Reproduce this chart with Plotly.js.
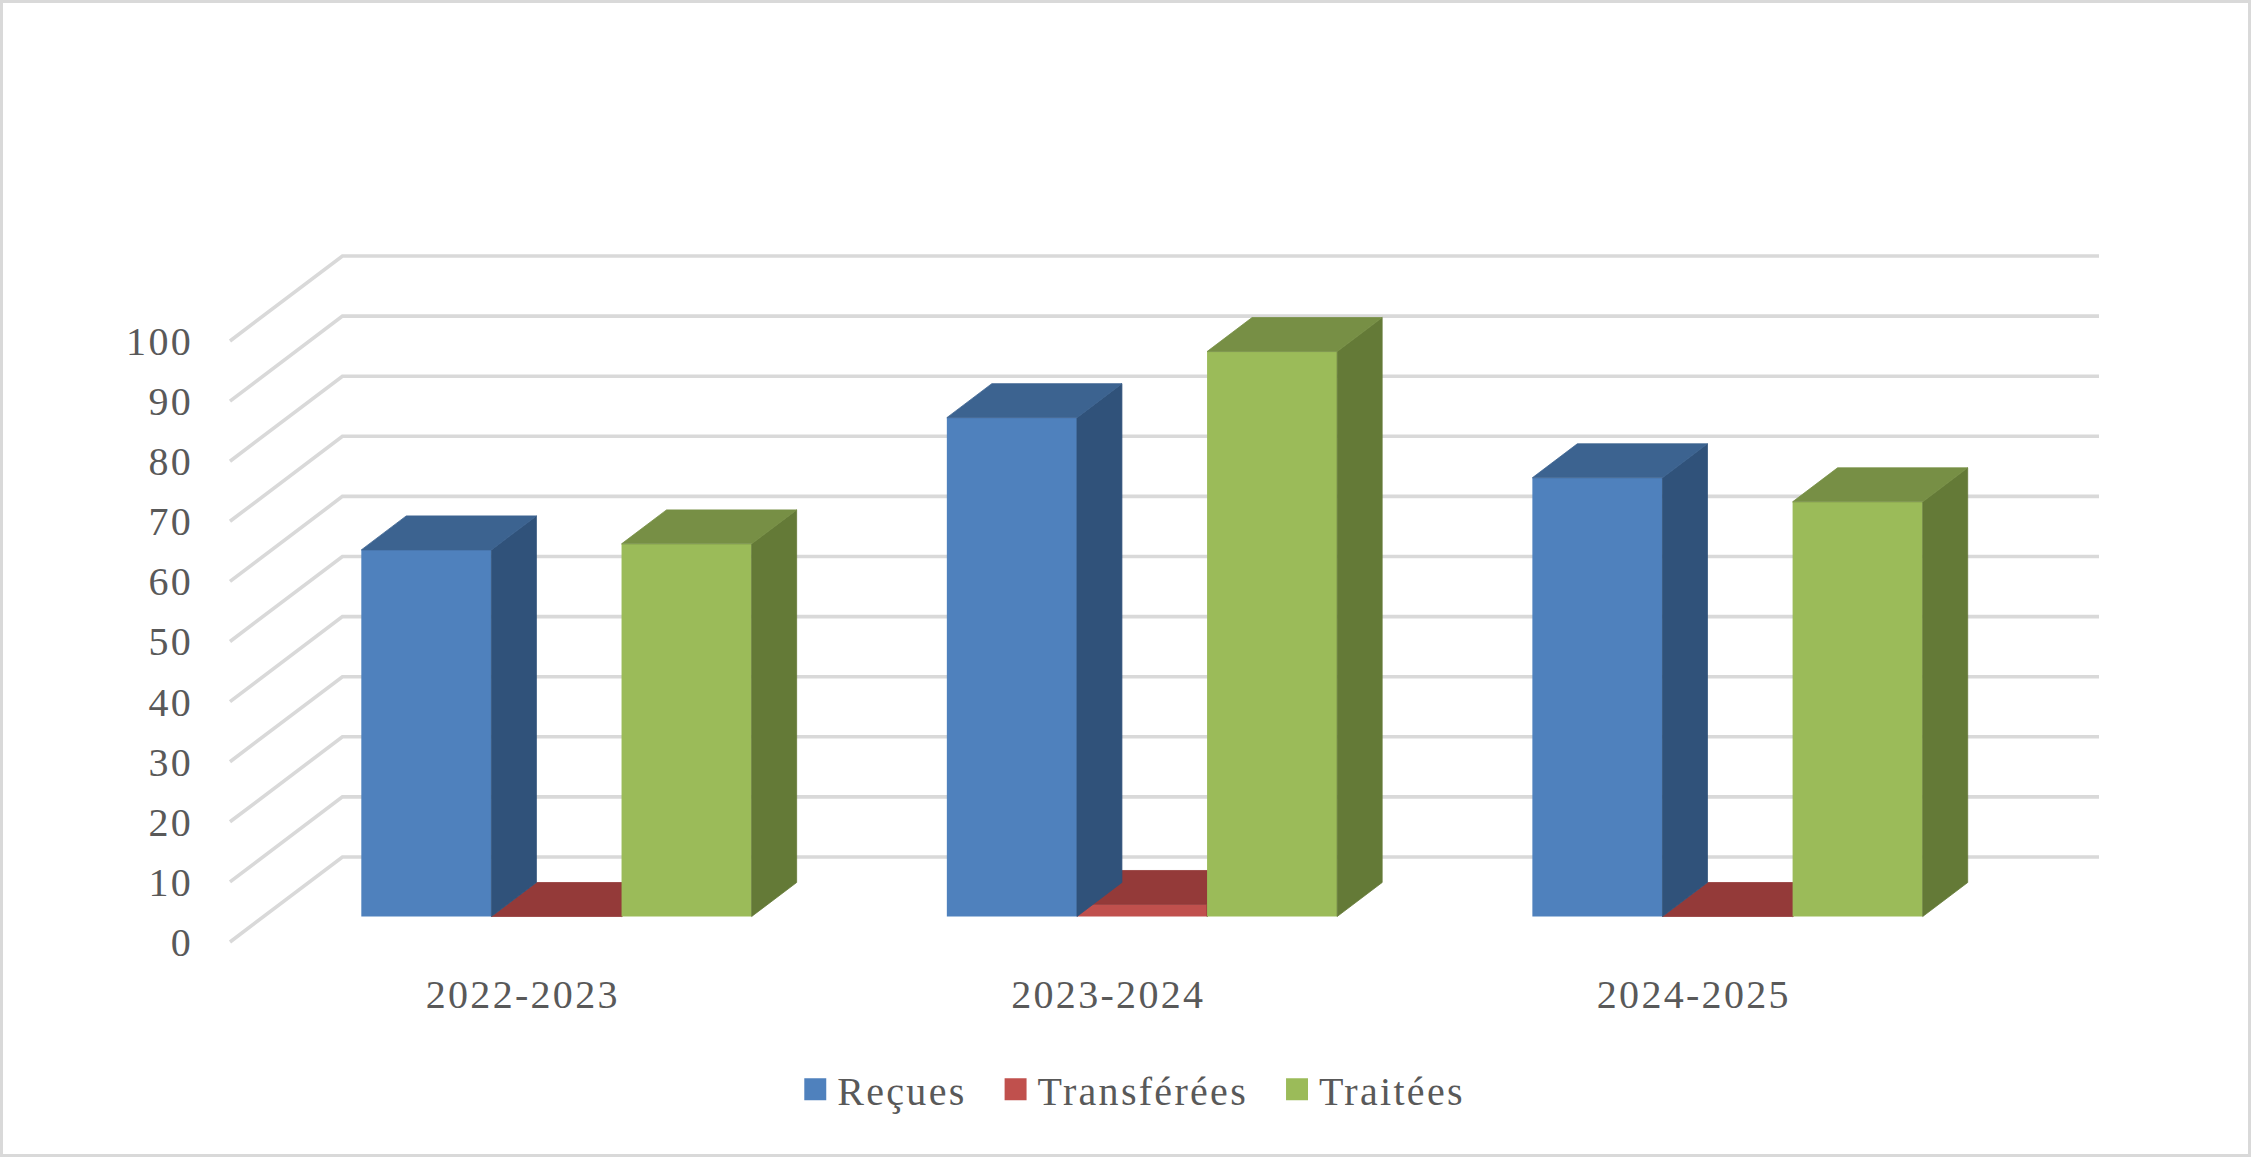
<!DOCTYPE html>
<html>
<head>
<meta charset="utf-8">
<script src="https://cdn.plot.ly/plotly-3.0.1.min.js"></script>
<style>
html,body{margin:0;padding:0;background:#fff;}
#chart{position:absolute;left:0;top:0;width:2251px;height:1157px;}
#frame{position:absolute;left:0;top:0;width:2251px;height:1157px;box-sizing:border-box;border:3px solid #d9d9d9;pointer-events:none;}
.legendpoints path{transform:translate(44px,0) scale(1.83) !important;}
.xtick text,.ytick text,.legendtext{letter-spacing:2.3px;}
</style>
</head>
<body>
<div id="chart"></div>
<div id="frame"></div>
<script>
const periods = ['2022-2023','2023-2024','2024-2025'];
const recues = [61,83,73];
const transferees = [0,2,0];
const traitees = [62,94,69];
const yTicks = [0,10,20,30,40,50,60,70,80,90,100];

const depthX = 0.192, depthY = 14.14;      // oblique projection of the floor depth, in axis units
const padX = 5/585.7, padY = 5/6.01;       // breathing room so grid line ends are not clipped
const barW = 1/4.5, barStart = 0.3, barDepth = 0.4;

const font = 'Liberation Serif';
const fontSize = 40;
const textColor = '#595959';

const cats = periods.map((_,i)=>i);
const base = barStart*depthY;
function barX(i,k){ return i + (k-1)*barW + barStart*depthX; }

function poly(vals,k,kind){
  const xs=[], ys=[];
  vals.forEach((v,i)=>{
    const xc=barX(i,k), xl=xc-barW/2, xr=xc+barW/2, yb=base, yt=base+v;
    const dx=barDepth*depthX, dy=barDepth*depthY;
    if(kind==='side'){
      xs.push(xr,xr+dx,xr+dx,xr,xr,null); ys.push(yb,yb+dy,yt+dy,yt,yb,null);
    } else {
      xs.push(xl,xl+dx,xr+dx,xr,xl,null); ys.push(yt,yt+dy,yt+dy,yt,yt,null);
    }
  });
  return {xs,ys};
}
function face(vals,k,kind,color,ax){
  const p=poly(vals,k,kind);
  return {type:'scatter',mode:'lines',x:p.xs,y:p.ys,fill:'toself',fillcolor:color,
    line:{width:0.8,color:color},showlegend:false,hoverinfo:'skip',cliponaxis:false,xaxis:'x'+ax,yaxis:'y'+ax};
}
function bar(name,vals,k,color,ax){
  return {type:'bar',name:name,x:cats.map(i=>barX(i,k)),y:vals,base:vals.map(()=>base),width:barW,
    marker:{color:color,line:{width:0}},cliponaxis:false,xaxis:'x'+ax,yaxis:'y'+ax};
}

const gx=[], gy=[];
yTicks.forEach(v=>{
  gx.push(-0.5,-0.5+depthX,2.5+depthX,null);
  gy.push(v,v+depthY,v+depthY,null);
});
const grid={type:'scatter',mode:'lines',x:gx,y:gy,line:{color:'#d9d9d9',width:3.6},showlegend:false,hoverinfo:'skip',cliponaxis:false};

const data=[
  grid,
  bar('Reçues',recues,0,'#4f81bd',3),
  bar('Transférées',transferees,1,'#c0504d',2),
  bar('Traitées',traitees,2,'#9bbb59',3),
  face(transferees,1,'side','#7a2f2d',2),
  face(transferees,1,'top','#943a39',2),
  face(recues,0,'side','#30527a',3),
  face(recues,0,'top','#3c6390',3),
  face(traitees,2,'side','#647a37',3),
  face(traitees,2,'top','#778f45',3)
];

const xr=[-0.5-padX,2.5+depthX], yr=[-padY,100+depthY+padY];
const hidden=(axis)=>({range:axis,visible:false,fixedrange:true});
const layout={
  width:2251,height:1157,
  margin:{l:224.5,r:152,t:250.7,b:210.3,pad:0},
  paper_bgcolor:'rgba(0,0,0,0)',plot_bgcolor:'rgba(0,0,0,0)',
  barmode:'overlay',
  showlegend:true,
  legend:{orientation:'h',x:0.2915,xanchor:'left',y:-0.2045,yanchor:'middle',itemwidth:56,
    font:{family:font,size:fontSize,color:textColor},bgcolor:'rgba(0,0,0,0)'},
  xaxis:{range:xr,tickmode:'array',tickvals:cats,ticktext:periods,showgrid:false,zeroline:false,showline:false,
    ticks:'',ticklabelstandoff:20,tickfont:{family:font,size:fontSize,color:textColor},fixedrange:true},
  yaxis:{range:yr,tickmode:'array',tickvals:yTicks,ticktext:yTicks.map(String),showgrid:false,zeroline:false,showline:false,
    ticks:'',ticklabelstandoff:31,tickfont:{family:font,size:fontSize,color:textColor},fixedrange:true},
  xaxis2:Object.assign(hidden(xr),{overlaying:'x'}),
  yaxis2:Object.assign(hidden(yr),{overlaying:'y'}),
  xaxis3:Object.assign(hidden(xr),{overlaying:'x'}),
  yaxis3:Object.assign(hidden(yr),{overlaying:'y'})
};
Plotly.newPlot('chart',data,layout,{displayModeBar:false,staticPlot:true});
</script>
</body>
</html>
